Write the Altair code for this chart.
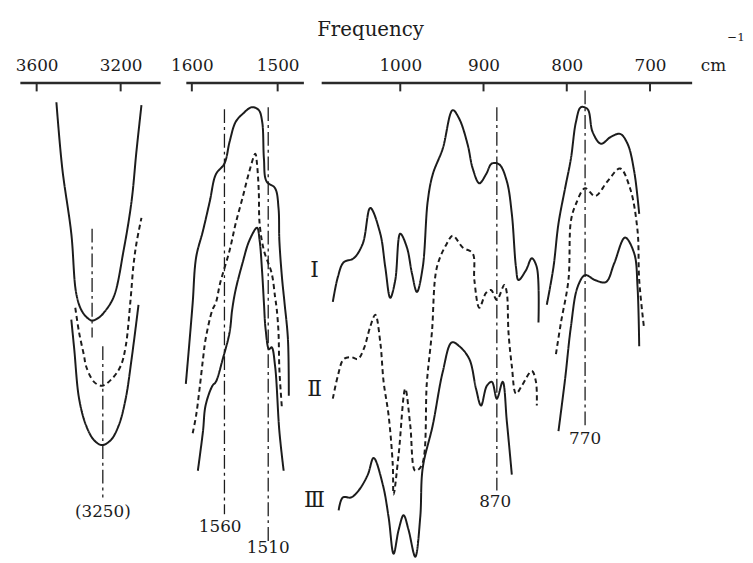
import altair as alt
import pandas as pd

# ---------------- axis segments (wavenumber, cm^-1) ----------------
P1_DOMAIN = [3012, 3680]
P2_DOMAIN = [1470, 1607]
P3_DOMAIN = [650, 1095]
P1_TICKS = [3600, 3200]
P2_TICKS = [1600, 1500]
P3_TICKS = [1000, 900, 800, 700]

# ---------------- spectra (wavenumber, relative transmittance) ----------------
# 3600-3000 region
S1_I_WN = [3506, 3478, 3435, 3412, 3388, 3360, 3336, 3304, 3280, 3233, 3186, 3148, 3125, 3101]
S1_I_T = [455, 388, 322, 262, 245, 237, 234, 237, 242, 258, 305, 355, 405, 452]
S1_II_WN = [3416, 3398, 3374, 3365, 3327, 3289, 3242, 3200, 3176, 3153, 3139, 3125, 3101]
S1_II_T = [247, 222, 198, 188, 172, 168, 175, 188, 208, 255, 290, 312, 338]
S1_III_WN = [3435, 3421, 3398, 3365, 3327, 3289, 3247, 3209, 3176, 3148, 3115]
S1_III_T = [235, 205, 155, 128, 113, 108, 113, 128, 155, 195, 250]

# 1600-1480 region
S2_I_WN = [1607, 1603, 1599, 1595, 1587, 1579, 1572, 1562, 1556, 1549, 1541, 1530, 1522,
           1518, 1516, 1513, 1503, 1499, 1498, 1495, 1492, 1488, 1487]
S2_I_T = [170, 210, 252, 298, 325, 355, 382, 393, 415, 435, 443, 450, 447,
          435, 398, 375, 368, 348, 315, 278, 252, 215, 158]
S2_II_WN = [1599, 1595, 1591, 1587, 1584, 1576, 1572, 1567, 1556, 1549, 1541, 1533, 1526,
            1524, 1522, 1521, 1516, 1507, 1503, 1501, 1499, 1498, 1495]
S2_II_T = [120, 138, 165, 195, 215, 245, 252, 272, 305, 332, 358, 385, 403,
           392, 365, 332, 305, 282, 258, 245, 222, 185, 145]
S2_III_WN = [1593, 1587, 1584, 1576, 1572, 1564, 1556, 1553, 1549, 1541, 1533, 1524, 1521,
             1518, 1516, 1514, 1510, 1507, 1503, 1498, 1493]
S2_III_T = [82, 122, 148, 168, 172, 195, 222, 245, 265, 292, 315, 328, 315,
            282, 252, 225, 205, 207, 188, 122, 82]

# 1100-700 region (two pieces per spectrum)
S3_I_A_WN = [1081, 1075, 1068, 1056, 1045, 1036, 1024, 1018, 1012, 1006, 1000, 992, 986, 980,
             973, 967, 961, 949, 937, 929, 919, 913, 905, 897, 890, 881, 872, 866, 861, 858,
             849, 842, 836, 834]
S3_I_A_T = [253, 278, 293, 297, 312, 348, 322, 288, 257, 275, 322, 308, 282, 263,
            288, 355, 382, 408, 447, 438, 412, 388, 373, 382, 393, 392, 375, 342, 288, 275,
            285, 297, 288, 232]
S3_I_B_WN = [824, 816, 810, 802, 795, 789, 783, 775, 769, 759, 747, 736, 727, 719, 713]
S3_I_B_T = [250, 288, 332, 368, 398, 435, 450, 448, 425, 413, 420, 423, 413, 385, 342]

S3_II_A_WN = [1081, 1075, 1068, 1059, 1051, 1044, 1036, 1030, 1024, 1020, 1014, 1009, 1008,
              1002, 994, 988, 982, 974, 968, 962, 956, 944, 937, 925, 913, 911, 905, 897,
              891, 884, 875, 872, 870, 866, 861, 854, 842, 837, 836]
S3_II_A_T = [155, 178, 195, 197, 195, 205, 228, 240, 212, 172, 138, 88, 58,
             98, 165, 128, 82, 88, 172, 222, 288, 312, 320, 308, 302, 275, 247, 262,
             265, 255, 270, 262, 222, 188, 160, 168, 183, 172, 148]
S3_II_B_WN = [813, 807, 798, 795, 789, 778, 766, 751, 736, 724, 715, 713, 707]
S3_II_B_T = [200, 232, 275, 335, 352, 368, 360, 375, 388, 368, 325, 275, 225]

S3_III_A_WN = [1074, 1069, 1059, 1050, 1039, 1032, 1021, 1014, 1008, 1002, 996, 990, 982,
               976, 973, 961, 949, 938, 929, 917, 909, 903, 896, 890, 884, 877, 872, 866]
S3_III_A_T = [42, 55, 55, 62, 78, 95, 68, 35, -2, 22, 37, 22, -5,
              35, 85, 128, 182, 212, 208, 195, 165, 148, 168, 172, 155, 172, 132, 78]
S3_III_B_WN = [810, 802, 795, 787, 778, 766, 753, 743, 730, 719, 715, 713]
S3_III_B_T = [122, 175, 228, 268, 280, 275, 273, 292, 318, 302, 268, 208]

# ---------------- assignment markers ----------------
MARK_PANEL = [1, 1, 2, 2, 3, 3]
MARK_WN = [3336, 3285, 1562, 1511, 884, 778]
MARK_TOP = [327, 208, 448, 450, 450, 467]
MARK_BOTTOM = [217, 55, 38, 10, 62, 128]

LABEL_PANEL = [1, 2, 2, 3, 3]
LABEL_TEXT = ["(3250)", "1560", "1510", "870", "770"]
LABEL_WN = [3285, 1567, 1511, 886, 778]
LABEL_T = [40, 25, 4, 50, 114]

ROMAN_TEXT = ["Ⅰ", "Ⅱ", "Ⅲ"]
ROMAN_WN = [1103, 1103, 1103]
ROMAN_T = [285, 165, 52]

INK = "#1c1c1c"
SERIF = "DejaVu Serif"
Y_DOMAIN = [-5, 475]
PLOT_H = 480


def curve_rows(panel, part, style, wn, t):
    return [dict(panel=panel, part=part, style=style, wn=w, t=v, idx=i)
            for i, (w, v) in enumerate(zip(wn, t))]


rows = []
rows += curve_rows(1, "1I", "solid", S1_I_WN, S1_I_T)
rows += curve_rows(1, "1II", "dashed", S1_II_WN, S1_II_T)
rows += curve_rows(1, "1III", "solid", S1_III_WN, S1_III_T)
rows += curve_rows(2, "2I", "solid", S2_I_WN, S2_I_T)
rows += curve_rows(2, "2II", "dashed", S2_II_WN, S2_II_T)
rows += curve_rows(2, "2III", "solid", S2_III_WN, S2_III_T)
rows += curve_rows(3, "3IA", "solid", S3_I_A_WN, S3_I_A_T)
rows += curve_rows(3, "3IB", "solid", S3_I_B_WN, S3_I_B_T)
rows += curve_rows(3, "3IIA", "dashed", S3_II_A_WN, S3_II_A_T)
rows += curve_rows(3, "3IIB", "dashed", S3_II_B_WN, S3_II_B_T)
rows += curve_rows(3, "3IIIA", "solid", S3_III_A_WN, S3_III_A_T)
rows += curve_rows(3, "3IIIB", "solid", S3_III_B_WN, S3_III_B_T)
curves = pd.DataFrame(rows)

marks = pd.DataFrame(dict(panel=MARK_PANEL, wn=MARK_WN, t=MARK_TOP, t2=MARK_BOTTOM))
labels = pd.DataFrame(dict(panel=LABEL_PANEL, label=LABEL_TEXT, wn=LABEL_WN, t=LABEL_T))
romans = pd.DataFrame(dict(label=ROMAN_TEXT, wn=ROMAN_WN, t=ROMAN_T))


def make_panel(pid, domain, ticks, width, extra=None):
    xs = alt.Scale(domain=domain, reverse=True, nice=False, zero=False)
    ax = alt.Axis(orient="top", values=ticks, format="d", ticks=False, tickSize=0,
                  grid=False, title=None, domainColor="#2a2a2a", domainWidth=2.6,
                  labelFont=SERIF, labelFontSize=17, labelColor=INK,
                  labelPadding=8, labelFlush=False)
    X = alt.X("wn:Q", scale=xs, axis=ax)
    ys = alt.Scale(domain=Y_DOMAIN, nice=False, zero=False)
    Y = alt.Y("t:Q", scale=ys, axis=None)

    lines = alt.Chart(curves[curves.panel == pid]).mark_line(
        interpolate="catmull-rom", strokeWidth=2, color=INK
    ).encode(
        x=X, y=Y, detail="part:N", order="idx:Q",
        strokeDash=alt.StrokeDash("style:N", legend=None,
                                  scale=alt.Scale(domain=["solid", "dashed"],
                                                  range=[[1, 0], [5, 3.5]])),
    )
    tick_df = pd.DataFrame(dict(wn=ticks))
    tick_rules = alt.Chart(tick_df).mark_rule(strokeWidth=2, color="#2a2a2a").encode(
        x=X, y=alt.value(0), y2=alt.value(9))
    rules = alt.Chart(marks[marks.panel == pid]).mark_rule(
        strokeWidth=1.3, color=INK, strokeDash=[14, 4, 3, 4]
    ).encode(x=X, y=Y, y2="t2:Q")
    texts = alt.Chart(labels[labels.panel == pid]).mark_text(
        font=SERIF, fontSize=17, color=INK, baseline="middle"
    ).encode(x=X, y=Y, text="label:N")
    layers = [lines, tick_rules, rules, texts]
    if extra:
        layers += [e(X, Y) for e in extra]
    return alt.layer(*layers).properties(width=width, height=PLOT_H)


def roman_layer(X, Y):
    return alt.Chart(romans).mark_text(font=SERIF, fontSize=22, color=INK,
                                       baseline="middle").encode(x=X, y=Y, text="label:N")


def note_layer(text, x, y, size, align, baseline):
    def build(X, Y):
        return alt.Chart(pd.DataFrame(dict(s=[text]))).mark_text(
            font=SERIF, fontSize=size, color=INK, align=align, baseline=baseline
        ).encode(x=alt.value(x), y=alt.value(y), text="s:N")
    return build


def spacer(width):
    return alt.Chart(pd.DataFrame(dict(a=[0]))).mark_point(opacity=0).encode(
        x=alt.X("a:Q", axis=None), y=alt.Y("a:Q", axis=None)
    ).properties(width=width, height=PLOT_H)


p1 = make_panel(1, P1_DOMAIN, P1_TICKS, 142)
p2 = make_panel(2, P2_DOMAIN, P2_TICKS, 119)
p3 = make_panel(3, P3_DOMAIN, P3_TICKS, 375, extra=[
    roman_layer,
    note_layer("Frequency", 50, -53, 20, "center", "middle"),
    note_layer("cm", 397, -12, 17, "center", "alphabetic"),
    note_layer("−1", 411, -42, 12, "left", "alphabetic"),
])

chart = alt.hconcat(p1, spacer(14), p2, spacer(6), p3, spacing=6, bounds="flush").properties(
    padding={"left": 7, "top": 9, "right": 0, "bottom": 0},
    background="white",
).configure_view(stroke=None)

chart.save("out.html", embed_options={"renderer": "svg", "actions": False})
